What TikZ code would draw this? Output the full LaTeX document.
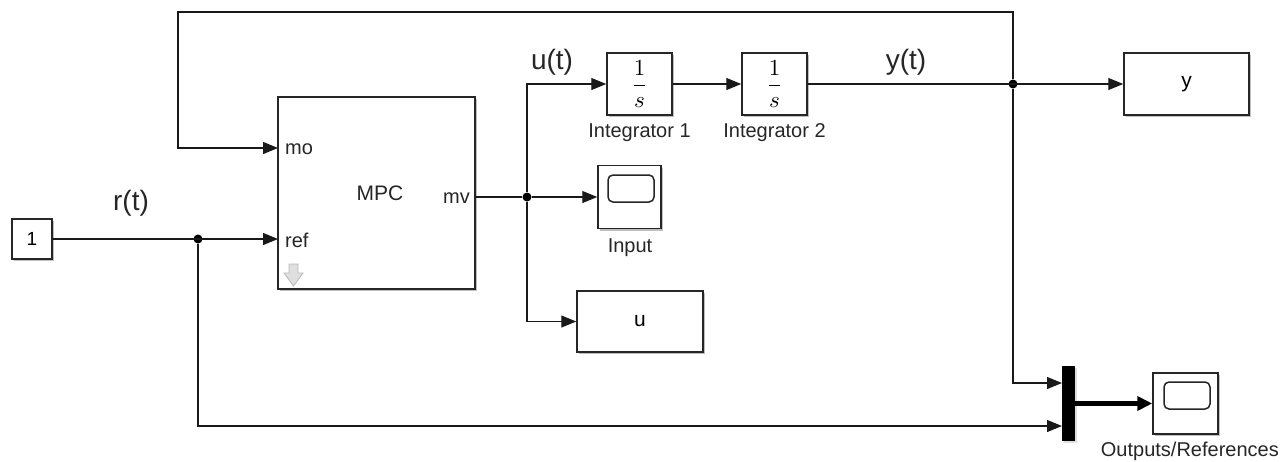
\documentclass[tikz,border=0pt]{standalone}
\usepackage{graphicx}
\usepackage{fontspec}
\setmainfont{Liberation Sans}
\usetikzlibrary{arrows.meta,shadows}
\begin{document}
\begin{tikzpicture}[x=1pt,y=-1pt,
  blk/.style={draw=black!85, line width=1.5pt, fill=white, inner sep=0pt,
    drop shadow={shadow xshift=2pt,shadow yshift=-2pt,opacity=0.25,fill=black}},
  wire/.style={line width=1.2pt, draw=black!90, -{Triangle[length=15pt,width=12pt]}},
  line/.style={line width=1.2pt, draw=black!90},
  lbl/.style={font=\fontsize{20}{23}\selectfont, text=black!85, inner sep=0pt},
  sig/.style={font=\fontsize{28}{32}\selectfont, text=black!85, inner sep=0pt},
  dot/.style={circle, fill=black, inner sep=0pt, minimum size=9pt}
]
\useasboundingbox (0,0) rectangle (1286,461);

% blocks
\node[blk, minimum width=40pt, minimum height=40pt] (c1) at (32,239) {\fontsize{19}{22}\selectfont 1};
\node[blk, minimum width=197pt, minimum height=192pt] (mpc) at (376.5,193) {};
\node[lbl, font=\fontsize{21}{24}\selectfont] (mpclbl) at (380,193) {MPC};
\node[lbl, anchor=west] (molbl) at (285,149) {mo};
\node[lbl, anchor=west] (reflbl) at (285,240) {ref};
\node[lbl, anchor=east] (mvlbl) at (470,198) {mv};
\coordinate (mo) at (278,148);
\coordinate (ref) at (278,239);
\coordinate (mv) at (475,197);

\node[blk, minimum width=65pt, minimum height=62pt] (int1) at (639.5,84) {\scalebox{2.3}{$\displaystyle\frac{1}{s}$}};
\node[blk, minimum width=65pt, minimum height=62pt] (int2) at (774.5,84) {\scalebox{2.3}{$\displaystyle\frac{1}{s}$}};
\node[lbl] (int1lbl) at (639.5,133) {Integrator 1};
\node[lbl] (int2lbl) at (774.5,133) {Integrator 2};

\node[blk, minimum width=63pt, minimum height=63pt] (inp) at (629.5,197) {};
\draw[line width=1.5pt, draw=black!85, rounded corners=5pt] (608,175) rectangle (654,202);
\node[lbl] (inplbl) at (630,248) {Input};

\node[blk, minimum width=126pt, minimum height=61pt] (ublk) at (640,321.5) {\fontsize{21}{24}\selectfont u};
\node[blk, minimum width=125pt, minimum height=62pt] (yblk) at (1186.5,84) {\fontsize{21}{24}\selectfont y};

\node[fill=black, minimum width=13pt, minimum height=75pt, inner sep=0pt,
  drop shadow={shadow xshift=2pt,shadow yshift=-2pt,opacity=0.25}] (mux) at (1068.5,403.5) {};
\coordinate (mux1) at (1062,383);
\coordinate (mux2) at (1062,426);

\node[blk, minimum width=65pt, minimum height=61pt] (osc) at (1185.5,403.5) {};
\draw[line width=1.5pt, draw=black!85, rounded corners=5pt] (1164,382) rectangle (1210,409);
\node[lbl, anchor=east] (osclbl) at (1279,451) {Outputs/References};

% gray arrow in MPC
\draw[gray!55, fill=gray!25, line width=0.8pt] (289,264) -- (298,264) -- (298,273) -- (303,273) -- (293.5,286) -- (284,273) -- (289,273) -- cycle;

% junctions
\node[dot] (rj) at (198,239) {};
\node[dot] (uj) at (527,197) {};
\node[dot] (yj) at (1013,84) {};

% signal labels
\node[sig] (rt) at (131,203) {r(t)};
\node[sig] (ut) at (552,62) {u(t)};
\node[sig] (yt) at (906,62) {y(t)};

% wires
\draw[wire] (c1.east) -- (ref);
\draw[line] (mv) -- (uj);
\draw[wire] (uj) -- (inp.west);
\draw[wire] (uj) |- (int1.west);
\draw[wire] (uj) |- (ublk.west);
\draw[wire] (int1.east) -- (int2.west);
\draw[wire] (int2.east) -- (yblk.west);
\draw[wire] (yj) -- (1013,12) -| (178,148) -- (mo);
\draw[wire] (yj) |- (mux1);
\draw[wire] (rj) |- (mux2);
\draw[line width=4.5pt, -{Triangle[length=15pt,width=14pt]}] (mux.east) -- (osc.west);
\end{tikzpicture}
\end{document}
